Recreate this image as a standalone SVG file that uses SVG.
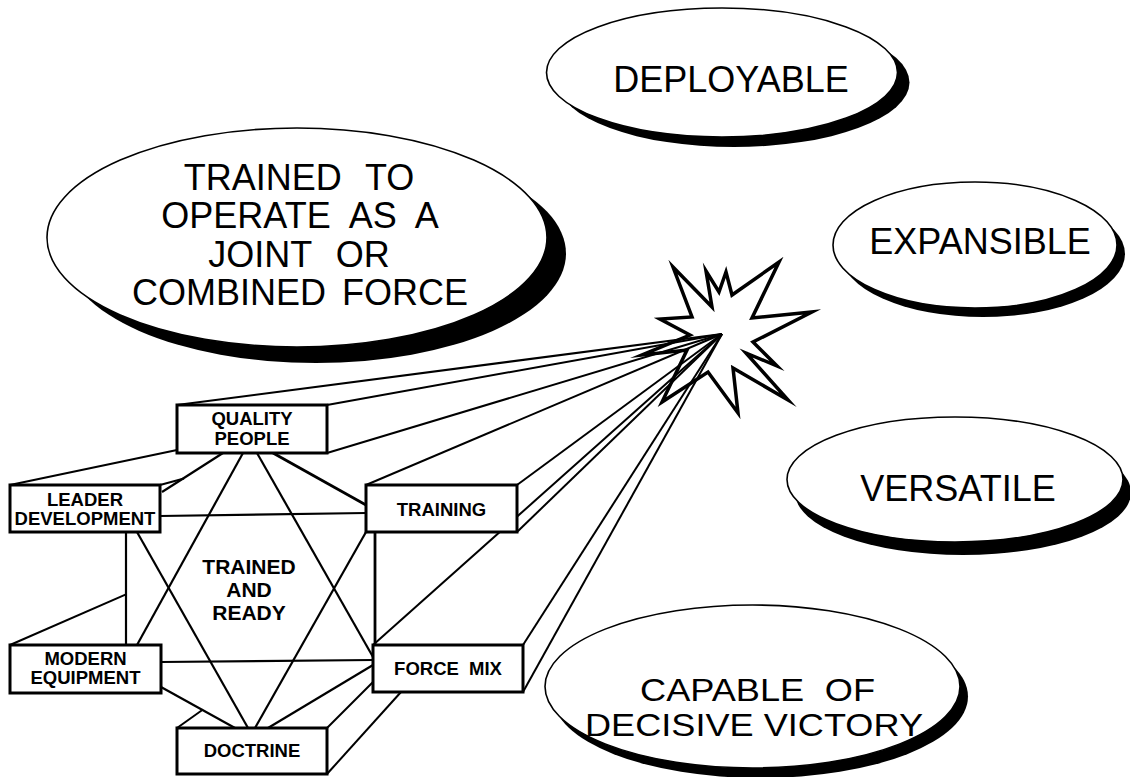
<svg xmlns="http://www.w3.org/2000/svg" width="1130" height="777" viewBox="0 0 1130 777">
<style>
.bg{fill:#fff}
.ell{fill:#fff;stroke:#000;stroke-width:1.6}
.sh{fill:#000}
.et{font-family:"Liberation Sans",Arial,Helvetica,sans-serif;font-size:36px;text-anchor:middle;fill:#000}
.et2{font-family:"Liberation Sans",Arial,Helvetica,sans-serif;font-size:31px;fill:#000}
.box{fill:#fff;stroke:#000;stroke-width:3}
.lbl{font-family:"Liberation Sans",Arial,Helvetica,sans-serif;font-weight:bold;font-size:18.5px;text-anchor:middle;fill:#000}
.ctr{font-family:"Liberation Sans",Arial,Helvetica,sans-serif;font-weight:bold;font-size:21px;text-anchor:middle;fill:#000}
.vp{stroke:#000;stroke-width:2;fill:none}
.ln{stroke:#000;stroke-width:2.2;fill:none}
.thk{stroke:#000;stroke-width:2.8;fill:none}
.star{fill:#fff;stroke:#000;stroke-width:3.5;stroke-linejoin:miter;stroke-miterlimit:20}
</style>
<rect class="bg" x="0" y="0" width="1130" height="777"/>

<g id="ellipse-joint">
<ellipse class="sh" cx="316" cy="253.5" rx="250" ry="109.5"/>
<ellipse class="ell" cx="297" cy="237.5" rx="250" ry="109.5"/>
<text class="et" x="299" y="190" style="word-spacing:14px">TRAINED TO</text>
<text class="et" x="300" y="228" style="word-spacing:10px">OPERATE AS A</text>
<text class="et" x="299" y="267" style="word-spacing:14px">JOINT OR</text>
<text class="et" x="300" y="305" style="word-spacing:6px">COMBINED FORCE</text>
</g>

<g id="ellipse-deployable">
<ellipse class="sh" cx="734" cy="82.5" rx="175.5" ry="64.5"/>
<ellipse class="ell" cx="722" cy="72.5" rx="175.5" ry="64.5"/>
<text class="et" x="731" y="92">DEPLOYABLE</text>
</g>

<g id="ellipse-expansible">
<ellipse class="sh" cx="983" cy="254" rx="142" ry="63"/>
<ellipse class="ell" cx="975" cy="245" rx="142" ry="63"/>
<text class="et" x="980" y="254">EXPANSIBLE</text>
</g>

<g id="ellipse-versatile">
<ellipse class="sh" cx="963" cy="492.5" rx="168" ry="62.5"/>
<ellipse class="ell" cx="955" cy="479.5" rx="168" ry="62.5"/>
<text class="et" x="958" y="501">VERSATILE</text>
</g>

<g id="ellipse-capable">
<ellipse class="sh" cx="760.5" cy="696.5" rx="207.5" ry="81.5"/>
<ellipse class="ell" cx="752.5" cy="686.5" rx="207.5" ry="81.5"/>
<text class="et2" x="640" y="701" textLength="235" lengthAdjust="spacingAndGlyphs" style="word-spacing:9px">CAPABLE OF</text>
<text class="et2" x="585" y="736" textLength="338" lengthAdjust="spacingAndGlyphs">DECISIVE VICTORY</text>
</g>

<g id="starburst">
<polygon class="star" points="673,267 712,307 706,271 719,292 726,272 732,295 779,262 752,318 812,312 753,342 777,366 746,353 788,400 733,368 738,413 708,372 662,402 687,350 642,355 690,335 660,319 692,317"/>
</g>

<g id="connectors">
<line class="vp" x1="177" y1="405" x2="722" y2="334"/>
<line class="vp" x1="327" y1="405" x2="722" y2="334"/>
<line class="vp" x1="327" y1="453" x2="722" y2="334"/>
<line class="vp" x1="366" y1="485" x2="722" y2="334"/>
<line class="vp" x1="517" y1="485" x2="722" y2="334"/>
<line class="vp" x1="517" y1="532" x2="722" y2="334"/>
<line class="vp" x1="373" y1="645" x2="722" y2="334"/>
<line class="vp" x1="523" y1="645" x2="722" y2="334"/>
<line class="vp" x1="523" y1="692" x2="722" y2="334"/>
<line class="vp" x1="10" y1="485" x2="177" y2="450"/>
<line class="vp" x1="160" y1="485" x2="184" y2="478.5"/>
<line class="vp" x1="10" y1="645" x2="126" y2="594.3"/>
<line class="vp" x1="177" y1="728" x2="203" y2="709.5"/>
<line class="vp" x1="327" y1="728" x2="373" y2="682"/>
<line class="vp" x1="327" y1="774" x2="401" y2="692"/>
<line class="ln" x1="162" y1="492" x2="223" y2="453"/>
<line class="thk" x1="273" y1="453" x2="366" y2="505"/>
<line class="thk" x1="375" y1="532" x2="375" y2="645"/>
<line class="ln" x1="373" y1="665" x2="268" y2="728"/>
<line class="ln" x1="235" y1="728" x2="161" y2="687"/>
<line class="ln" x1="126" y1="532" x2="126" y2="645"/>
<line class="ln" x1="243" y1="453" x2="137" y2="645"/>
<line class="ln" x1="257" y1="453" x2="373" y2="657"/>
<line class="ln" x1="161" y1="662" x2="373" y2="660"/>
<line class="ln" x1="160" y1="516" x2="366" y2="513"/>
<line class="ln" x1="137" y1="532" x2="248" y2="728"/>
<line class="ln" x1="366" y1="532" x2="255" y2="728"/>
</g>

<g id="trained-and-ready">
<text class="ctr" x="249" y="574">TRAINED</text>
<text class="ctr" x="249" y="597">AND</text>
<text class="ctr" x="249" y="620">READY</text>
</g>

<g id="quality-people">
<rect class="box" x="177" y="405" width="150" height="48"/>
<text class="lbl" x="252" y="425">QUALITY</text>
<text class="lbl" x="252" y="445">PEOPLE</text>
</g>
<g id="leader-development">
<rect class="box" x="10" y="485" width="150" height="47"/>
<text class="lbl" x="85" y="506">LEADER</text>
<text class="lbl" x="85" y="525">DEVELOPMENT</text>
</g>
<g id="training">
<rect class="box" x="366" y="485" width="151" height="47"/>
<text class="lbl" x="441.5" y="516">TRAINING</text>
</g>
<g id="force-mix">
<rect class="box" x="373" y="645" width="150" height="47"/>
<text class="lbl" x="448" y="675" style="word-spacing:5px">FORCE MIX</text>
</g>
<g id="modern-equipment">
<rect class="box" x="10" y="645" width="151" height="48"/>
<text class="lbl" x="85.5" y="665">MODERN</text>
<text class="lbl" x="85.5" y="684">EQUIPMENT</text>
</g>
<g id="doctrine">
<rect class="box" x="177" y="728" width="150" height="46"/>
<text class="lbl" x="252" y="757">DOCTRINE</text>
</g>
</svg>
